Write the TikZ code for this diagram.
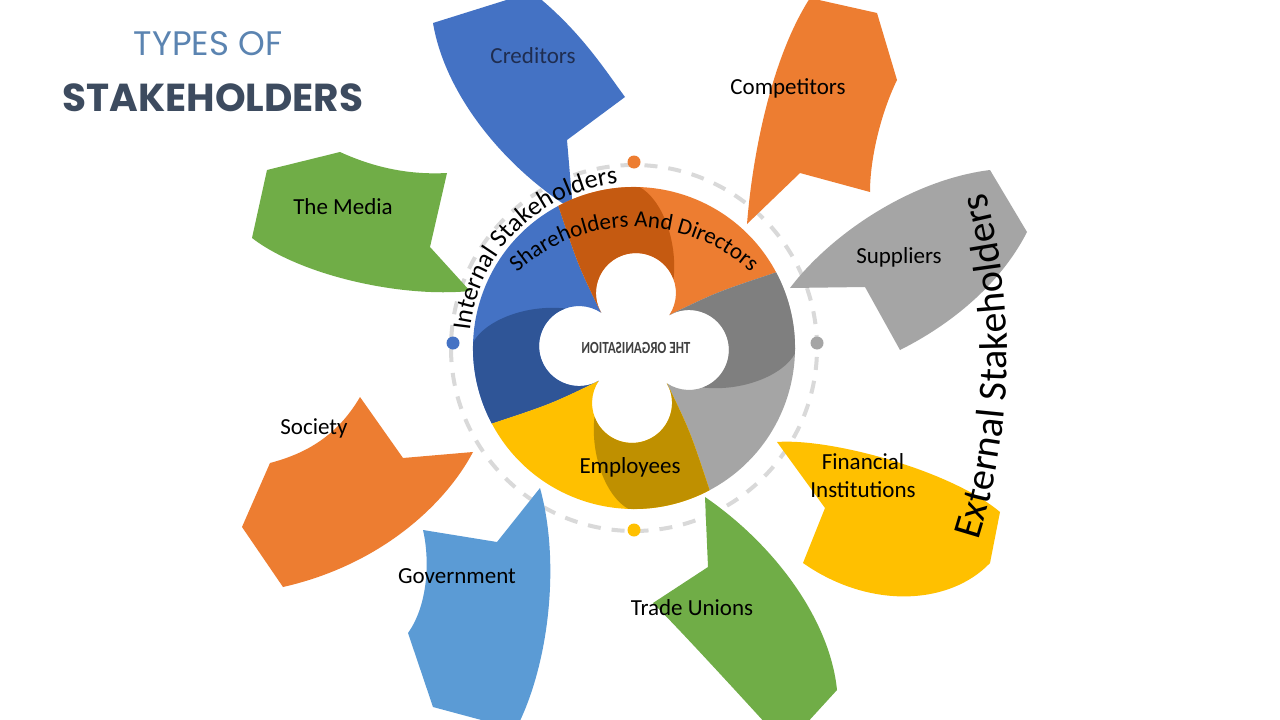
\documentclass[tikz,border=0pt]{standalone}
\usepackage{fontspec}
\setmainfont{Carlito}
\newfontfamily\popfont{Poppins}
\usetikzlibrary{decorations.text}
\definecolor{bluel}{HTML}{4472C4}
\definecolor{blued}{HTML}{2F5597}
\definecolor{orangel}{HTML}{ED7D31}
\definecolor{oranged}{HTML}{C55A11}
\definecolor{grayl}{HTML}{A5A5A5}
\definecolor{grayd}{HTML}{7F7F7F}
\definecolor{yell}{HTML}{FFC000}
\definecolor{yeld}{HTML}{BF9000}
\definecolor{greenl}{HTML}{70AD47}
\definecolor{lblue}{HTML}{5B9BD5}
\definecolor{dashgray}{HTML}{D9D9D9}
\definecolor{titleblue}{HTML}{5B84B1}
\definecolor{titledark}{HTML}{3D4B5F}
\definecolor{navytxt}{HTML}{1F2D50}
\definecolor{orgtxt}{HTML}{404040}
\newcommand\ringseg{(135:48.2) .. controls (126:100) .. (120:161) arc[start angle=120,end angle=210,radius=161] .. controls (216:100) .. (225:48.2) arc[start angle=-58.5,end angle=-301.5,radius=40] -- cycle}
\newcommand\ringdark{(225:48.2) .. controls (216:100) .. (210:161) arc[start angle=210,end angle=180,radius=161] .. controls (-150,22) and (-110,40) .. (-70,37.1) arc[start angle=112,end angle=301.5,radius=40] -- cycle}
\tikzset{
  lab/.style={font=\fontsize{23}{26}\selectfont, text=black, inner sep=0pt, align=center},
  dashring/.style={draw=dashgray, line width=4pt, dash pattern=on 13pt off 11pt},
}
\begin{document}
\begin{tikzpicture}[x=1pt,y=1pt]
\useasboundingbox (0,0) rectangle (1280,-720);
\fill[white] (0,0) rectangle (1280,-720);
\coordinate (rc) at (634,-348);

% title
\node[font=\popfont\fontsize{34}{36}\selectfont, text=titleblue, inner sep=0pt] (t1) at (208,-44) {TYPES OF};
\node[font=\popfont\bfseries\fontsize{39}{40}\selectfont, text=titledark, inner sep=0pt] (t2) at (213,-98) {STAKEHOLDERS};

% dashed circle and dots
\draw[dashring] (rc) circle[radius=183];
\fill[bluel] (453,-343) circle[radius=6.5];
\fill[grayl] (817,-343) circle[radius=6.5];
\fill[orangel] (634,-162) circle[radius=6.5];
\fill[yell] (634,-530) circle[radius=6.5];

% petals
\fill[bluel] (433,-23) -- (532,8) .. controls (580,-30) and (605,-70) .. (625,-97) -- (567,-140) -- (573,-210) .. controls (505,-168) and (445,-95) .. (433,-23) -- cycle;
\fill[orangel] (810,2) -- (877,-13) -- (897,-80) .. controls (880,-115) and (870,-160) .. (870,-192) -- (800,-173) -- (747,-224) .. controls (752,-160) and (770,-60) .. (810,2) -- cycle;
\fill[grayl] (790,-288) .. controls (830,-235) and (910,-180) .. (990,-170) -- (1027,-232) .. controls (1000,-285) and (950,-325) .. (900,-350) -- (865,-287) -- cycle;
\fill[greenl] (267,-170) -- (340,-152) .. controls (375,-168) and (410,-175) .. (447,-173) -- (430,-247) -- (470,-291) .. controls (400,-298) and (300,-275) .. (252,-238) -- cycle;
\fill[orangel] (360,-397) -- (403,-458) -- (473,-452) .. controls (445,-505) and (380,-565) .. (283,-587) -- (242,-527) -- (270,-463) .. controls (300,-455) and (335,-440) .. (360,-397) -- cycle;
\fill[lblue] (540,-488) -- (497,-542) -- (423,-530) .. controls (430,-560) and (428,-605) .. (408,-633) -- (433,-707) -- (500,-725) -- (518,-725) .. controls (550,-660) and (560,-560) .. (540,-488) -- cycle;
\fill[greenl] (705,-497) .. controls (775,-545) and (830,-620) .. (837,-690) -- (805,-725) -- (767,-725) .. controls (735,-690) and (680,-630) .. (653,-603) -- (708,-567) -- cycle;
\fill[yell] (777,-442) .. controls (830,-438) and (950,-470) .. (1000,-512) -- (990,-563) .. controls (950,-605) and (870,-610) .. (803,-563) -- (825,-508) -- cycle;

% ring
\begin{scope}[shift={(634,-348)}, rotate=-2]
  \fill[bluel] \ringseg;
  \fill[blued] \ringdark;
  \begin{scope}[rotate=-90]
    \fill[orangel] \ringseg;
    \fill[oranged] \ringdark;
  \end{scope}
  \begin{scope}[rotate=-180]
    \fill[grayl] \ringseg;
    \fill[grayd] \ringdark;
  \end{scope}
  \begin{scope}[rotate=90]
    \fill[yell] \ringseg;
    \fill[yeld] \ringdark;
  \end{scope}
\end{scope}

% ring texts
\path[decorate, decoration={text along path, text align=center, text color=black,
  text={|\fontsize{23}{23}\selectfont|Shareholders And Directors}}]
  ([shift={(150:173)}]634,-400) arc[start angle=150, end angle=30, radius=173];
\path[decorate, decoration={text along path, text align=left, text color=black,
  text={|\fontsize{26}{26}\selectfont|Internal Stakeholders}}]
  ([shift={(174:165)}]rc) arc[start angle=174, end angle=80, radius=165];
\path[decorate, decoration={text along path, text align=center, text color=black,
  text={|\fontsize{40}{40}\selectfont|External Stakeholders}}]
  ([shift={(-20:622)}]385,-353) arc[start angle=-20, end angle=17.4, radius=622];

\node[lab] (emp) at (630,-467) {Employees};
\node[font=\bfseries\fontsize{17}{17}\selectfont, text=orgtxt, inner sep=0pt] (org) at (636,-348) {\reflectbox{\scalebox{0.77}[1]{THE ORGANISATION}}};

% labels
\node[lab, text=navytxt] (cred) at (533,-56) {Creditors};
\node[lab] (comp) at (788,-88) {Competitors};
\node[lab] (supp) at (899,-257) {Suppliers};
\node[lab] (media) at (343,-207) {The Media};
\node[lab] (soc) at (314,-428) {Society};
\node[lab] (gov) at (457,-576) {Government};
\node[lab] (trade) at (692,-608) {Trade Unions};
\node[lab, font=\fontsize{23}{28}\selectfont] (fin) at (863,-476) {Financial\\Institutions};
\end{tikzpicture}
\end{document}
